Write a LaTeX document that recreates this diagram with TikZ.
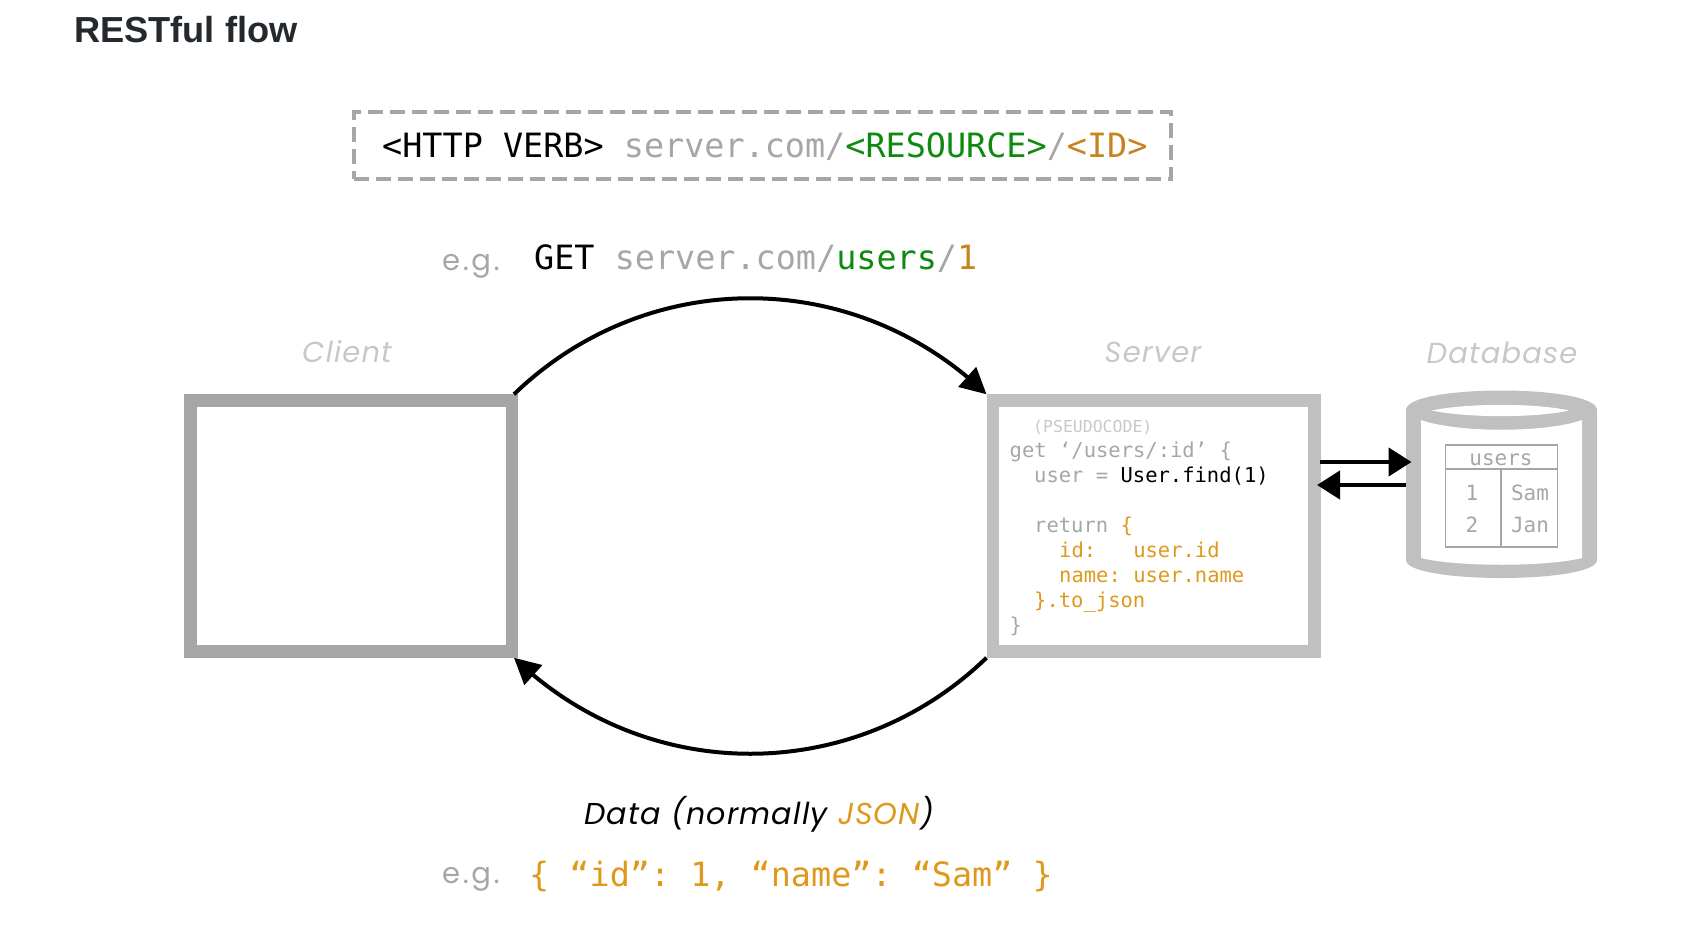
\documentclass[tikz,border=0pt]{standalone}
\usepackage{fontspec}
\setmainfont{Liberation Sans}
\setmonofont{DejaVu Sans Mono}
\newfontfamily\futurafont[LetterSpace=4]{Poppins}
\newfontfamily\egfont[LetterSpace=9]{Poppins}
\usetikzlibrary{arrows.meta,bending}
\definecolor{clientgray}{HTML}{A6A6A6}
\definecolor{servergray}{HTML}{C0C0C0}
\definecolor{textgray}{HTML}{A6A6A6}
\definecolor{labelgray}{HTML}{C8C8C8}
\definecolor{resgreen}{HTML}{0E8A0E}
\definecolor{idorange}{HTML}{C8821E}
\definecolor{jsonorange}{HTML}{DE991C}
\definecolor{titledark}{HTML}{24292E}
\tikzset{
  urltext/.style={inner sep=0pt,anchor=base west,font=\fontsize{33.45}{34}\ttfamily},
  codetext/.style={inner sep=0pt,anchor=base west,text=textgray,font=\fontsize{20.5}{25}\ttfamily},
  celltext/.style={inner sep=0pt,anchor=base,text=textgray,font=\fontsize{21}{25}\ttfamily},
  labeltext/.style={inner sep=0pt,anchor=base,text=labelgray,font=\fontsize{29}{32}\futurafont\itshape},
  egtext/.style={inner sep=0pt,anchor=base west,text=textgray,font=\fontsize{29}{32}\egfont},
  bigbox/.style={draw,line width=12.5pt,inner sep=0pt,minimum width=321.5pt,minimum height=251pt},
  flowarrow/.style={line width=4pt,-{Triangle[length=26pt,width=26pt,flex=1]}},
  dbarrow/.style={line width=4.5pt,-{Triangle[length=23pt,width=28pt]}},
}
\begin{document}
\begin{tikzpicture}[x=1pt,y=-1pt]
    \useasboundingbox (0,0) rectangle (1686,934);

    % 标题
    \node [inner sep=0pt,anchor=base west,text=titledark,font=\fontsize{36.2}{40}\bfseries] (title) at (74,43) {RESTful flow};

    % 虚线框
    \node [draw=clientgray,dashed,line width=4pt,dash pattern=on 15pt off 7pt,inner sep=0pt,minimum width=817pt,minimum height=67pt] (urlbox) at (762.5,145) {};
    \node [urltext] (urlformat) at (382,157) {<HTTP VERB> \textcolor{textgray}{server.com/}\textcolor{resgreen}{<RESOURCE>}\textcolor{textgray}{/}\textcolor{idorange}{<ID>}};

    % 请求示例
    \node [egtext] (egget) at (442,270) {e.g.};
    \node [urltext] (geturl) at (534,269) {GET \textcolor{textgray}{server.com/}\textcolor{resgreen}{users}\textcolor{textgray}{/}\textcolor{idorange}{1}};

    % 客户端与服务器
    \node [labeltext] (clientlabel) at (347,362) {Client};
    \node [bigbox,draw=clientgray] (client) at (351,526) {};
    \node [labeltext] (serverlabel) at (1153,362) {Server};
    \node [bigbox,draw=servergray] (server) at (1153.5,526) {};

    % 伪代码
    \node [codetext,text=labelgray,font=\fontsize{16.5}{20}\ttfamily] (code0) at (1033,432) {(PSEUDOCODE)};
    \node [codetext] (code1) at (1009.5,457) {get ‘/users/:id’ \{};
    \node [codetext] (code2) at (1034,482) {user = \textcolor{black}{User.find(1)}};
    \node [codetext] (code3) at (1034,532) {return \textcolor{jsonorange}{\{}};
    \node [codetext,text=jsonorange] (code4) at (1059,557) {id:~~~user.id};
    \node [codetext,text=jsonorange] (code5) at (1059,582) {name:~user.name};
    \node [codetext,text=jsonorange] (code6) at (1034,607) {\}.to\_json};
    \node [codetext] (code7) at (1009.5,632) {\}};

    % 数据库
    \node [labeltext] (dblabel) at (1502,363) {Database};
    \fill [servergray] (1406,410) .. controls (1406,384) and (1597,384) .. (1597,410) -- (1597,560) .. controls (1597,584) and (1406,584) .. (1406,560) -- cycle;
    \fill [white] (1421,420) .. controls (1457,433) and (1546,433) .. (1582,420) -- (1582,558) .. controls (1546,567) and (1457,567) .. (1421,558) -- cycle;
    \fill [white] (1432,410.5) .. controls (1467,403) and (1536,403) .. (1569,410.5) .. controls (1536,418) and (1467,418) .. (1432,410.5) -- cycle;
    \node [draw=clientgray,line width=1.6pt,inner sep=0pt,minimum width=112pt,minimum height=102pt] (userstable) at (1501.5,496) {};
    \draw [clientgray,line width=1.6pt] (1445.5,469) -- (1557.5,469);
    \draw [clientgray,line width=1.6pt] (1501,469) -- (1501,547);
    \node [celltext] (userhead) at (1501,465) {users};
    \node [celltext] (id1) at (1472,500) {1};
    \node [celltext] (id2) at (1472,532) {2};
    \node [celltext] (name1) at (1530,500) {Sam};
    \node [celltext] (name2) at (1530,532) {Jan};

    % 服务器与数据库之间的箭头
    \coordinate (serverout) at (1320,462);
    \coordinate (dbin) at (1411.5,462);
    \coordinate (dbout) at (1406,485);
    \coordinate (serverin) at (1317,485);
    \draw [dbarrow] (serverout) -- (dbin);
    \draw [dbarrow] (dbout) -- (serverin);

    % 请求与响应
    \draw [flowarrow] ([xshift=-4pt]client.north east) to[bend left=44] (server.north west);
    \draw [flowarrow] (server.south west) to[bend left=44] ([xshift=-4pt]client.south east);

    % 响应示例
    \node [labeltext,text=black,font=\fontsize{30.2}{34}\futurafont\itshape] (datalabel) at (759,824) {Data (normally \textcolor{jsonorange}{JSON})};
    \node [egtext] (egdata) at (442,883) {e.g.};
    \node [urltext,text=jsonorange] (dataurl) at (529,886) {\{ “id”: 1, “name”: “Sam” \}};
\end{tikzpicture}
\end{document}
